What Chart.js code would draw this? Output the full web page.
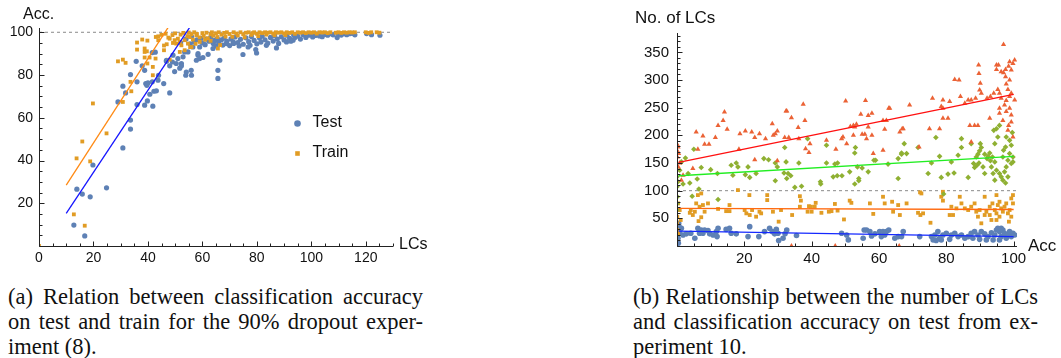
<!DOCTYPE html>
<html>
<head>
<meta charset="utf-8">
<script src="https://cdn.jsdelivr.net/npm/chart.js@4.4.0/dist/chart.umd.min.js"></script>
<style>
body { margin:0; background:#fff; width:1061px; height:358px; overflow:hidden; position:relative; }
#left { position:absolute; left:0; top:0; }
#right { position:absolute; left:600px; top:0; }
.cap { position:absolute; font-family:"Liberation Serif","Times New Roman",serif; font-size:22.5px; line-height:25px; color:#111; white-space:nowrap; }
.cap .j { text-align:justify; text-align-last:justify; }
</style>
</head>
<body>
<canvas id="left" width="440" height="275"></canvas>
<canvas id="right" width="461" height="275"></canvas>
<div class="cap" style="left:8px; top:284px; width:415px;">
  <div class="j">(a) Relation between classification accuracy</div>
  <div class="j">on test and train for the 90% dropout exper-</div>
  <div>iment (8).</div>
</div>
<div class="cap" style="left:633px; top:284px; width:405px;">
  <div class="j">(b) Relationship between the number of LCs</div>
  <div class="j">and classification accuracy on test from ex-</div>
  <div>periment 10.</div>
</div>
<script>
// (a) accuracy vs number of LCs, [LCs, Acc]
const testPoints = [
  [12.8,9.8],[16.8,4.7],[13.9,26.6],[15.9,24.3],[18.8,23],[19.8,37.9],[24.8,27.2],[30.8,45.9],[33.6,54.7],[33.6,58.9],
  [29,67.4],[30.8,74.8],[31.8,71.6],[33.6,80.2],[35.7,86.4],[36,76.8],[36,66.2],[38.8,65.9],[39.8,67.9],[41.8,65.4],
  [39.2,76],[40,76.3],[39.6,75.2],[41.6,76.8],[40.7,71],[42.2,72.4],[43.1,72.6],[43.7,77.6],[43.9,79.9],[45.8,76],
  [48,71.6],[38.8,82.2],[37.9,84.3],[42.7,90.7],[41.6,90.5],[46.8,86.4],[48,84.3],[49.8,81.6],[51.7,83.2],[53.9,79.9],
  [55.9,82.2],[50.4,85.4],[52.3,85.4],[49,86.1],[51,87.7],[52.9,88.5],[54.7,90.8],[56.5,93.1],[57.8,86.9],[58.4,89.3],
  [49.2,89.3],[46.8,86.9],[53.5,90.8],[52.3,84.3],[54.1,81.4],[56,79.9],[52,95.2],[54,96.8],[55.5,94.6],[56,98],
  [59,93.1],[58.4,90],[59,87.7],[60.2,88.2],[62.1,89.7],[66.4,86.9],[65.7,82.2],[65.7,78.4],[63.9,92.4],[68.8,94.7],
  [71.3,95.5],[74.9,89.6],[76.8,93.1],[79.9,90.3],[79.6,91.9],[83.5,93.9],[87.2,92.7],[90.9,95.5],[93.3,96.3],
  [57,95.5],[58,96.5],[59.5,97.2],[60,95],[61,94.2],[61.5,96.8],[62.5,95.8],[63,97.5],[64,94.8],[64.5,96.2],
  [65,93.6],[65.5,97],[66,95.2],[67,96.5],[67.5,94],[68,97.3],[69,95.8],[70,93.8],[70.5,96.9],[71.5,94.8],
  [72,97.8],[73,95.2],[73.5,93.6],[74,96.7],[75,94.4],[76,97.4],[77,95.6],[77.5,93.9],[78,98],[79,96.2],
  [80,94.6],[81,97.3],[81.5,95.4],[82,98.2],[83,96.5],[84,94.9],[85,97.6],[86,95.9],[86.5,98.4],[87.5,96.8],
  [88,94.8],[89,97.9],[90,96.4],[91,98.6],[92,97.2],[92.5,95.8],[93.5,98.8],[94,97.5],[95,98.2],[96,96.8],
  [97,98.9],[98,97.6],[99,98.6],[100,99],[100.5,97.8],[101.5,98.5],[102,99.2],[103,98.3],[104,97.9],[105,99],
  [106,98.6],[107,99.3],[108,98.8],[109.5,97.5],[110,99.2],[111,98.7],[112,99.4],[113,98.9],[114,99.3],[115,99.5],
  [116,98.8],[120.3,99.4],[122.1,98.9],[125.2,98.6]
];
const trainPoints = [
  [0,0],[12.8,14.8],[16.8,9.5],[13.8,41],[15.9,48.9],[18.8,39.6],[19.8,66.7],[24.8,52.7],[29,86.4],[30.8,87.2],
  [31.8,85.7],[30.8,67.4],[33.9,72.4],[33.6,76.8],[36,91.9],[36,95.2],[37.9,96.6],[39.8,96.1],[38.8,92.4],[38.8,90.8],
  [39.6,91.1],[40.6,88.2],[39.8,85.4],[41.8,83.8],[41.8,79.9],[38.8,88.2],[42.8,87.7],[43.8,96.3],[42.9,97.8],[43.8,98.1],
  [45.9,93.8],[45.9,91.6],[46.9,94.4],[48,97],[49.2,95],[49.8,96.3],[50.4,94.7],[51,97],[51.7,95.5],[52.3,93.9],
  [53.5,96.3],[54.7,94.7],[55.3,97.8],[56.5,96.6],[57.8,98.6],[56,93.1],[51.7,90.8],[48,87.2],[53.5,91.6],
  [45,98.8],[46.5,99.3],[47.5,97.5],[49,98.7],[50,99.5],[52,98.9],[53,99.7],[54.5,98.2],[55,99.9],[56,99.1],[57,100],
  [55.5,93],[57.5,94.6],[59,95.5],[61,96.5],[63,96],[65.7,92.4],[66.5,94],
  [58,99.2],[59,97.6],[60,99.6],[60.5,98.3],[61.5,99.8],[62,97.2],[63,99.1],[63.5,100],[64,98.4],[65,99.5],
  [65.5,97.8],[66,100],[67,98.9],[68,99.7],[68.5,98],[69,100],[70,99.2],[71,97.9],[71.5,100],[72.5,99.4],
  [73,98.5],[74,100],[75,99.1],[75.5,97.6],[76,99.8],[77,100],[78,98.8],[78.5,99.6],[79,100],[80,99.3],
  [80.5,98.2],[81,100],[82,99.6],[83,100],[83.5,98.9],[84,99.8],[85,100],[86,99.4],[86.5,98.6],[87,100],
  [88,99.8],[89,100],[90,99.5],[90.5,98.7],[91,100],[92,99.7],[93,100],[94,99.3],[95,100],[96,99.8],
  [97,100],[98,99.6],[99,100],[100,99.8],[101,100],[102,99.4],[103,100],[104,99.9],[105,100],[106,99.6],
  [107,100],[109,99.8],[110,100],[111,99.7],[112,100],[113,99.8],[114,100],[115,99.9],[116,100],[120,100],
  [121,99.7],[122,100],[124,100],[125,99.8]
];
const testFitLCs = [10, 55.6];
const testFitAcc = [15.3, 102.8];
const trainFitLCs = [10, 47.7];
const trainFitAcc = [28.5, 102.8];
const leftXLabels = [0, 20, 40, 60, 80, 100, 120];
const leftYLabels = [20, 40, 60, 80, 100];

// (b) number of LCs vs accuracy, [Acc, LCs]
const redPoints = [
  [14.1,242],[12.2,218],[14.9,211],[5.7,206],[7.7,199],[11.4,196],[9.5,184],[6.2,175],[8.2,184],[20.3,208],
  [18.4,175],[23.1,196],[24.5,203],[26.3,194],[28.3,221],[29.2,203],[29.8,208],[32.4,244],[23.1,156],[29.8,154],
  [32,196],[4.7,140],[1.8,128],[1.3,119],[0.3,179],[0.1,161],[0,173],[0.2,182],[0.5,167],[0.8,150],[0.4,143],
  [28.6,200],[22.2,206],[18.7,203],[13.7,227],
  [37.5,256],[34,232],[32.6,244],[38,227],[36,214],[33.2,196],[36.2,194],[38.2,176],[39.2,169],[39.5,185],
  [44.4,191],[50.1,262],[56,263],[51.5,216],[52.4,218],[53.3,220],[52.8,215],[54.6,238],[56.8,236],[57.9,240],
  [55,202],[55.8,202],[56.3,194],[56.8,215],[57.9,200],[48.9,194],[49.3,197],[50.4,185],[47.2,175],[52.4,200],
  [61.2,227],[61.7,211],[62.9,249],[58.3,167],[61.2,173],[66.9,212],[71.9,179],[63.2,249],[62.2,227],[66.2,206],
  [97,364],[100.3,336],[99.8,330],[98.8,333],[98.5,325],[97.6,319],[97,313],[96.3,315],[95.5,327],[94.9,327],
  [94.9,319],[99.3,318],[97.6,306],[98.8,300],[97.8,293],[98.3,283],[99.3,276],[98.8,270],[97.8,263],[96.3,267],
  [95.8,276],[95.3,283],[94.1,276],[93.1,270],[92.1,267],[90.4,276],[89.9,282],[89.6,327],[89.7,312],[90.1,294],
  [88.7,267],[87.4,264],[86.5,264],[85.5,258],[84.2,270],[83.8,300],[82.5,301],[81,261],[79,264],[79,249],
  [78.5,252],[80.5,231],[79,231],[75.9,267],[75,212],[78,212],[69.1,255],[67.2,212],[87,218],[88.4,218],
  [89.4,218],[92.9,231],[95.8,240],[96.8,227],[95.8,249],[97.3,255],[97.8,243],[98.8,249],[99.3,237],[98.5,218],
  [99.3,224],[98.3,209],[99.8,197],[87.4,188],[100.3,264],
  [34,0],[47,0],[66,0]
];
const greenPoints = [
  [2.5,159],[5,175],[7.2,142],[3.3,131],[3.8,114],[1.8,112],[4.5,90],[6,121],[6.5,103],[10,138],
  [12.2,84],[12,131],[16.1,146],[17.6,150],[16.6,128],[18.1,143],[20.3,129],[21.1,143],[21.6,124],[23.5,131],
  [25.8,158],[27.2,156],[29.2,150],[29.8,143],[29.2,118],[31.8,132],[32,178],[32.4,152],[0,107],[0.3,116],
  [0,125],[0.8,137],[1.3,152],[0.1,89],[0,77],[0,65],
  [33,131],[33.8,127],[32.6,122],[36.2,150],[35,106],[37,108],[38.8,194],[42.6,116],[42.7,112],[44.4,182],
  [44.4,150],[46.4,125],[47.6,127],[49,127],[46.9,148],[47.7,150],[51.3,134],[52.8,168],[53,178],[53.6,143],
  [52.8,112],[54,122],[54,118],[55,141],[56.8,134],[58.5,155],[59,155],[62.7,148],[65.7,158],[66.7,168],
  [67.5,185],[65.7,122],
  [66.7,166],[68.2,167],[71.6,178],[76.9,196],[75.6,150],[78,162],[74.6,131],[78.5,124],[80.5,130],[82.3,132],
  [79.2,94],[81.5,152],[84.5,194],[84.5,178],[83.5,164],[86.5,124],[87.4,185],[88.1,149],[88.9,161],[89.4,166],
  [89.9,172],[90.1,185],[90.4,178],[88.4,142],[89.1,146],[89.7,150],[91.4,166],[92.1,158],[92.4,162],[92.9,168],
  [91.4,131],[90.9,143],[93.1,154],[93.7,161],[94.4,152],[94.1,209],[94.9,212],[95.8,218],[95.3,197],[94.4,185],
  [93.4,143],[93.9,131],[94.9,137],[95.8,131],[94.4,119],[96.8,161],[97,173],[97.6,179],[97.8,197],[98.8,191],
  [99.3,182],[98.8,167],[98.3,155],[99.8,161],[99.3,149],[97.8,143],[97.3,134],[98.3,125],[99.8,152],[96.3,125],
  [96.8,119],[97.6,114],[99.6,205]
];
const orangePoints = [
  [6.2,92],[7.2,95],[5.7,77],[7.7,74],[9.2,77],[6.7,71],[4.1,65],[5.3,62],[8.2,62],[3.8,60],
  [4.7,56],[6.4,45],[7.2,52],[12.2,67],[15.6,74],[14.6,63],[15.6,63],[18.1,101],[21.5,92],[20.6,59],
  [21.6,56],[22.3,65],[20.1,65],[26.8,92],[26.8,83],[28.5,62],[24.5,62],[25,59],[23.5,53],[30.2,44],
  [30.9,65],[0.3,77],[0.8,65],[0.1,53],[0,41],[0,29],[0.3,23],[1.1,47],
  [36.5,90],[36.8,82],[36.5,71],[34.2,56],[39.2,72],[39.8,71],[40.9,71],[41.2,78],[38.8,62],[40,62],
  [42.9,60],[45.1,62],[45.9,63],[46.9,76],[47.7,64],[49.6,48],[51.3,82],[51.8,78],[57.3,77],[58.3,58],
  [61.2,89],[61.7,77],[63.9,80],[64.2,62],[65.7,74],[66.2,56],
  [68.2,77],[71.6,60],[72.3,56],[73.1,59],[72.6,95],[72.2,97],[75.3,42],[78.5,89],[79,82],[79,98],[81,56],
  [82,56],[81.5,71],[83,68],[84,89],[84.5,77],[85.5,68],[86.5,65],[87.4,71],[88.4,77],[88.9,62],
  [89.4,53],[89.9,65],[90.4,41],[91.4,56],[91.9,62],[92.9,71],[93.7,77],[94.4,65],[94.9,59],[95.3,74],
  [95.8,80],[96.3,68],[96.8,62],[97.3,71],[97.8,77],[98.3,59],[98.8,65],[99.3,86],[99.8,92],[99.8,77],
  [99.3,53],[98.6,44],[95.8,53],[94.9,47],[93.4,47],[92.9,56],[91.4,89],[94.9,92]
];
const bluePoints = [
  [0.5,41],[0.1,29],[0.8,23],[1.3,32],[0.3,14],[1.8,20],[2.8,22],[5.3,14],[4.1,23],[6.2,32],
  [7.2,29],[8.2,29],[9.2,28],[6.7,23],[7.7,23],[9.7,22],[10.7,20],[11.7,26],[12.2,32],[11.9,17],
  [14.6,30],[15.6,32],[16.1,23],[17.6,22],[21.6,35],[21.1,17],[24.3,17],[26,26],[27.5,32],[28.3,26],
  [29,22],[29.5,30],[30,23],[30.2,10],[31.5,14],[32.1,22],[0.2,8],[0.4,5],[0,18],[0.6,35],
  [32.6,29],[35.5,19],[48.9,23],[50.4,20],[50.9,11],[55.3,14],[55.6,29],[56.3,29],[57.3,26],[57.8,18],
  [58.8,22],[60.2,26],[61.2,26],[62.2,26],[60.7,17],[61.7,20],[62.9,29],[64.7,14],[65.7,17],[67.2,26],
  [66.7,17],[72.1,17],[75.6,17],[76.1,11],[76.6,20],[77.5,26],[78,14],[78.5,11],[79,20],[80,23],
  [81.5,20],[82.5,23],[83.5,17],[84.5,20],[85.5,14],[86.5,17],[87.4,23],[88.4,26],[89.4,20],[90.4,26],
  [91.4,22],[92.4,17],[93.4,24],[94.4,20],[94.9,29],[95.3,32],[95.8,26],[96.3,17],[96.8,29],[97.3,23],
  [97.8,14],[98.3,20],[98.8,26],[99.3,17],[99.8,23],[100.3,20],[95.8,11],[93.9,11],[91.9,11],[89.9,12],
  [87.9,14],[81,12],[77,10],[96.3,32]
];
const fitAcc = [0.5, 100];
const redFitLCs = [151, 274];
const greenFitLCs = [127, 162];
const orangeFitLCs = [68, 66];
const blueFitLCs = [27, 17];
const rightXLabels = [20, 40, 60, 80, 100];
const rightYLabels = [50, 100, 150, 200, 250, 300, 350];

const BLUE = '#5E81B5', ORANGE = '#E19C24', GREEN = '#8FB032', RED = '#EB6235';

Chart.defaults.font.family = '"Liberation Sans", Arial, sans-serif';
Chart.defaults.color = '#111';

function ptsOf(list) {
    return list.map(p => ({x: p[0], y: p[1]}));
}
function lineOf(xs, ys) {
    return xs.map((v, i) => ({x: v, y: ys[i]}));
}
function fitSet(data, color) {
    return {data: data, showLine: true, borderColor: color, borderWidth: 1.3, pointRadius: 0, fill: false};
}
function dashSet(xs) {
    return {data: lineOf(xs, [100, 100]), showLine: true, borderColor: '#8a8a8a', borderWidth: 1, borderDash: [3, 3], pointRadius: 0};
}

// mathematica style axes: lines with inward ticks, names at the ends, legend inside
const mmaAxes = {
    id: 'mmaAxes',
    afterDraw(chart, args, o) {
        const ctx = chart.ctx, a = chart.chartArea, sx = chart.scales.x, sy = chart.scales.y;
        const left = Math.round(a.left) + 0.5, bottom = Math.round(a.bottom) + 0.5;
        ctx.save();
        ctx.strokeStyle = '#222';
        ctx.lineWidth = 1;
        ctx.beginPath();
        ctx.moveTo(left, a.top);
        ctx.lineTo(left, bottom);
        ctx.lineTo(a.right, bottom);
        sx.ticks.forEach(t => {
            const px = Math.round(sx.getPixelForValue(t.value)) + 0.5;
            const len = t.value % o.xMajor === 0 ? 5 : 3;
            ctx.moveTo(px, bottom);
            ctx.lineTo(px, bottom - len);
        });
        sy.ticks.forEach(t => {
            const py = Math.round(sy.getPixelForValue(t.value)) + 0.5;
            const len = t.value % o.yMajor === 0 ? 5 : 3;
            ctx.moveTo(left, py);
            ctx.lineTo(left + len, py);
        });
        ctx.stroke();

        ctx.fillStyle = '#111';
        ctx.font = o.nameSize + 'px "Liberation Sans", Arial, sans-serif';
        ctx.textBaseline = 'middle';
        ctx.textAlign = 'left';
        ctx.fillText(o.yName, a.left + o.yNameAt[0], a.top + o.yNameAt[1]);
        ctx.fillText(o.xName, a.right + o.xNameAt[0], a.bottom + o.xNameAt[1]);

        if (o.legend) {
            o.legend.forEach((label, i) => {
                const ds = chart.data.datasets.find(d => d.label === label);
                const cx = a.left + o.legendAt[0], cy = a.top + o.legendAt[1] + i * 30;
                ctx.fillStyle = ds.backgroundColor;
                ctx.beginPath();
                if (ds.pointStyle === 'rect') ctx.rect(cx - 2.3, cy - 2.3, 4.6, 4.6);
                else ctx.arc(cx, cy, 3.3, 0, Math.PI * 2);
                ctx.fill();
                ctx.fillStyle = '#111';
                ctx.font = '16px "Liberation Sans", Arial, sans-serif';
                ctx.fillText(label, cx + 15, cy - 1);
            });
        }
        ctx.restore();
    }
};

function axis(min, max, step, labels, size, pad) {
    return {
        type: 'linear', min: min, max: max,
        grid: {display: false, drawTicks: false},
        border: {display: false},
        ticks: {
            stepSize: step, includeBounds: false, autoSkip: false, maxRotation: 0,
            padding: pad, font: {size: size}, color: '#111',
            callback: v => labels.includes(v) ? String(v) : ''
        }
    };
}

const leftX = axis(0, 130, 5, leftXLabels, 14, 4);
leftX.afterFit = s => { s.height = 29; };
const leftY = axis(0, 102, 5, leftYLabels, 14, 6);
leftY.afterFit = s => { s.width = 39; };

new Chart(document.getElementById('left'), {
    type: 'scatter',
    data: {datasets: [
        fitSet(lineOf(trainFitLCs, trainFitAcc), '#ff8a14'),
        fitSet(lineOf(testFitLCs, testFitAcc), '#1414ff'),
        {label: 'Train', data: ptsOf(trainPoints), pointStyle: 'rect', pointRadius: 2.7, backgroundColor: ORANGE, borderWidth: 0},
        {label: 'Test', data: ptsOf(testPoints), pointStyle: 'circle', pointRadius: 2.6, backgroundColor: BLUE, borderWidth: 0},
        dashSet([0, 130])
    ]},
    options: {
        responsive: false, animation: false, events: [],
        layout: {padding: {top: 28, right: 47, left: 0, bottom: 0}},
        scales: {x: leftX, y: leftY},
        plugins: {
            legend: {display: false}, tooltip: {enabled: false},
            mmaAxes: {xMajor: 20, yMajor: 20, nameSize: 16, yName: 'Acc.', yNameAt: [-16, -13], xName: 'LCs', xNameAt: [6, -1],
                legend: ['Test', 'Train'], legendAt: [258.5, 95.5]}
        }
    },
    plugins: [mmaAxes]
});

const rightX = axis(0, 101, 5, rightXLabels, 15, 4);
rightX.afterFit = s => { s.height = 29; };
const rightY = axis(0, 385, 10, rightYLabels, 15, 8);
rightY.afterFit = s => { s.width = 77; };

new Chart(document.getElementById('right'), {
    type: 'scatter',
    data: {datasets: [
        fitSet(lineOf(fitAcc, redFitLCs), '#ff1010'),
        fitSet(lineOf(fitAcc, greenFitLCs), '#22ee22'),
        fitSet(lineOf(fitAcc, orangeFitLCs), '#ff6a10'),
        fitSet(lineOf(fitAcc, blueFitLCs), '#1428ff'),
        {label: 'red', data: ptsOf(redPoints), pointStyle: 'triangle', pointRadius: 3, backgroundColor: RED, borderWidth: 0},
        {label: 'green', data: ptsOf(greenPoints), pointStyle: 'rectRot', pointRadius: 2.8, backgroundColor: GREEN, borderWidth: 0},
        {label: 'orange', data: ptsOf(orangePoints), pointStyle: 'rect', pointRadius: 2.7, backgroundColor: ORANGE, borderWidth: 0},
        {label: 'blue', data: ptsOf(bluePoints), pointStyle: 'circle', pointRadius: 2.8, backgroundColor: BLUE, borderWidth: 0},
        dashSet([0, 101])
    ]},
    options: {
        responsive: false, animation: false, events: [],
        layout: {padding: {top: 33, right: 44, left: 0, bottom: 0}},
        scales: {x: rightX, y: rightY},
        plugins: {
            legend: {display: false}, tooltip: {enabled: false},
            mmaAxes: {xMajor: 20, yMajor: 50, nameSize: 17, yName: 'No. of LCs', yNameAt: [-42, -15], xName: 'Acc', xNameAt: [11, 0]}
        }
    },
    plugins: [mmaAxes]
});
</script>
</body>
</html>
